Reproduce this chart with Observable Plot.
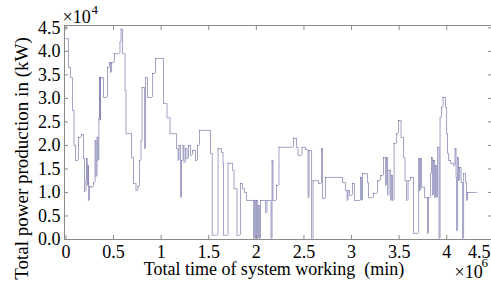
<!DOCTYPE html>
<html><head><meta charset="utf-8">
<script src="https://cdn.jsdelivr.net/npm/d3@7"></script>
<script src="https://cdn.jsdelivr.net/npm/@observablehq/plot@0.6"></script>
<style>
html,body{margin:0;padding:0;background:#fff}
#chart svg{display:block}
#chart svg, #chart svg text{font-family:"Liberation Serif","Times New Roman",serif !important;}
</style>
</head><body><div id="chart"></div>
<script>
// time in ×10^6 min, power in ×10^4 kW (step series)
const time = [0,0.027,0.048,0.069,0.085,0.101,0.132,0.164,0.185,0.195,0.211,0.216,0.224,0.232,0.237,0.248,0.269,0.29,0.306,0.316,0.327,0.337,0.346,0.353,0.358,0.363,0.395,0.437,0.458,0.468,0.479,0.51,0.568,0.579,0.595,0.621,0.631,0.689,0.71,0.736,0.757,0.773,0.789,0.8,0.826,0.836,0.857,0.91,0.941,1.025,1.062,1.093,1.162,1.178,1.188,1.204,1.214,1.23,1.24,1.256,1.272,1.288,1.309,1.33,1.361,1.382,1.403,1.519,1.537,1.598,1.634,1.65,1.655,1.703,1.75,1.766,1.797,1.834,1.855,1.876,1.897,1.971,1.981,1.992,2.002,2.013,2.023,2.034,2.044,2.097,2.112,2.154,2.165,2.175,2.212,2.238,2.39,2.422,2.438,2.48,2.517,2.543,2.554,2.58,2.596,2.653,2.685,2.695,2.727,2.905,2.937,2.953,2.963,2.979,3.01,3.031,3.094,3.105,3.115,3.168,3.178,3.231,3.273,3.305,3.336,3.357,3.368,3.378,3.394,3.41,3.421,3.431,3.447,3.473,3.494,3.52,3.546,3.562,3.578,3.594,3.62,3.651,3.704,3.714,3.725,3.735,3.767,3.798,3.808,3.83,3.84,3.851,3.861,3.872,3.882,3.893,3.903,3.919,3.93,3.945,3.961,3.987,3.998,4.008,4.019,4.04,4.071,4.087,4.098,4.103,4.114,4.124,4.135,4.15,4.166,4.177,4.198,4.208,4.219,4.324];
const power = [4.27,3.66,3.44,2.74,2.0,1.68,2.17,2.23,1.72,1.02,1.25,1.72,1.15,1.57,0.83,1.13,1.11,1.21,2.1,1.34,2.17,1.68,2.57,3.44,2.53,3.44,3.02,3.66,3.76,3.55,3.76,3.95,4.19,4.47,3.95,3.17,2.25,1.74,1.19,1.04,1.13,1.68,2.1,3.23,1.93,3.44,3.02,3.53,3.85,2.89,2.59,2.25,1.93,1.68,2.0,0.89,1.68,2.0,1.64,1.93,1.72,2.0,1.79,1.89,1.68,2.0,2.32,1.83,0.09,1.93,1.85,1.62,0.09,1.62,1.47,1.08,0.09,1.19,1.08,1.0,0.83,0.02,0.83,0.02,0.83,0.02,0.72,0.02,0.83,0.57,0.83,0.02,1.68,0.83,1.15,1.96,2.15,1.96,1.79,1.96,1.91,0.89,1.89,0.02,1.25,1.19,1.93,0.87,1.32,1.21,1.04,0.83,1.04,0.94,1.19,0.83,1.32,0.83,1.4,1.21,0.89,0.98,1.25,1.36,1.74,1.15,1.74,0.94,1.47,0.83,1.36,0.83,2.04,2.25,2.53,2.17,1.74,1.25,0.83,1.25,1.32,0.13,1.72,1.04,1.72,1.11,0.89,0.13,0.89,1.4,1.74,0.94,1.68,0.89,1.57,0.89,1.96,0.02,2.59,2.81,3.02,2.81,2.25,1.83,1.68,1.62,1.57,1.93,1.32,0.19,1.74,1.25,1.53,1.21,0.02,1.4,1.21,0.83,1.0,1.0];

const xTicks = [0,0.5,1,1.5,2,2.5,3,3.5,4];
const xEndLabel = ["4.5"];
const yTicks = [0,0.5,1,1.5,2,2.5,3,3.5,4,4.5];
const xTitle = ["Total time of system working  (min)"];
const yTitle = ["Total power production in (kW)"];
const xExp = ["6"], yExp = ["4"], timesTen = ["×10"];

// step segments derived from the arrays
const horiz = [], vert = [];
for (let i = 0; i < time.length - 1; i++) {
  horiz.push({x1: time[i], x2: time[i + 1], y: power[i]});
  vert.push({x: time[i + 1], y1: power[i], y2: power[i + 1]});
}

const lineColor = "#323282";
const axisColor = "#8a8a8a";
const serif = "Liberation Serif";

const chart = Plot.plot({
  width: 491, height: 289,
  marginLeft: 64, marginRight: 0, marginTop: 25, marginBottom: 50,
  style: {fontFamily: serif, fontSize: "18px", background: "white", color: "black", overflow: "visible"},
  x: {domain: [-0.015, 4.47]},
  y: {domain: [0, 4.55]},
  marks: [
    Plot.ruleY(horiz, {y: "y", x1: "x1", x2: "x2", stroke: lineColor, strokeOpacity: 0.45}),
    Plot.ruleX(vert, {x: "x", y1: "y1", y2: "y2", stroke: lineColor, strokeOpacity: 0.45}),
    Plot.frame({stroke: axisColor}),
    Plot.axisX(xTicks, {anchor: "bottom", tickSize: -4, fill: "none", stroke: axisColor, label: null}),
    Plot.axisX(xTicks, {anchor: "top", tickSize: -4, fill: "none", stroke: axisColor, label: null}),
    Plot.axisY(yTicks, {anchor: "left", tickSize: -4, fill: "none", stroke: axisColor, label: null}),
    Plot.axisY(yTicks, {anchor: "right", tickSize: -4, fill: "none", stroke: axisColor, label: null}),
    Plot.axisX(xTicks, {anchor: "bottom", tickSize: 0, tickPadding: 6, label: null, tickFormat: d => String(d), fill: "black", fontFamily: serif}),
    Plot.axisY(yTicks, {anchor: "left", tickSize: 0, tickPadding: 4, label: null, tickFormat: d => d.toFixed(1), fill: "black", fontFamily: serif}),
    Plot.text(xEndLabel, {frameAnchor: "bottom-right", textAnchor: "end", lineAnchor: "top", dy: 6, dx: -1, fill: "black", fontFamily: serif}),
    Plot.text(xTitle, {frameAnchor: "bottom", textAnchor: "middle", lineAnchor: "bottom", dy: 35, dx: -4, fill: "black", fontFamily: serif}),
    Plot.text(yTitle, {frameAnchor: "left", textAnchor: "middle", rotate: -90, lineAnchor: "bottom", dx: -37, dy: 26, fontSize: 19, fill: "black", fontFamily: serif}),
    Plot.text(timesTen, {frameAnchor: "top-left", textAnchor: "start", lineAnchor: "bottom", dx: -2, dy: -3, fill: "black", fontFamily: serif}),
    Plot.text(yExp, {frameAnchor: "top-left", textAnchor: "start", lineAnchor: "bottom", dx: 27, dy: -12, fontSize: 13, fill: "black", fontFamily: serif}),
    Plot.text(timesTen, {frameAnchor: "bottom-right", textAnchor: "start", lineAnchor: "bottom", dx: -37, dy: 38, fill: "black", fontFamily: serif}),
    Plot.text(xExp, {frameAnchor: "bottom-right", textAnchor: "start", lineAnchor: "bottom", dx: -10, dy: 27, fontSize: 13, fill: "black", fontFamily: serif})
  ]
});
document.getElementById("chart").appendChild(chart);
</script>
</body></html>
